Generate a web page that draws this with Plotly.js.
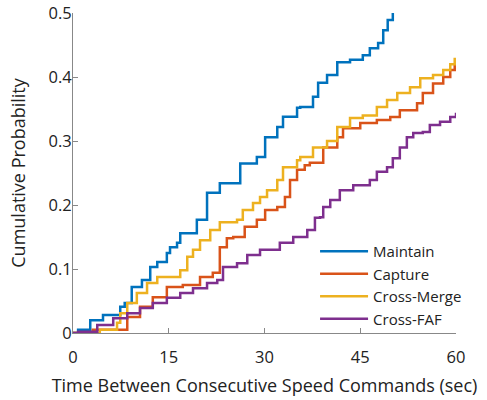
<!DOCTYPE html>
<html>
<head>
<meta charset="utf-8">
<script src="https://cdn.plot.ly/plotly-3.0.1.min.js"></script>
<style>html,body{margin:0;padding:0;background:#fff}#chart{width:487px;height:400px}</style>
</head>
<body>
<div id="chart"></div>
<script>
var seriesNames = ["Maintain", "Capture", "Cross-Merge", "Cross-FAF"];
var seriesColors = ["#0072BD", "#D95319", "#EDB120", "#7E2F8E"];

var maintainT = [0, 0.8, 2.7, 4.7, 7.4, 8.1, 9.2, 10.8, 12.1, 13.2, 14.7, 15.2, 16.3, 16.8, 19.4, 21.0, 23.0, 25.9, 26.2, 28.8, 30.1, 32.0, 32.9, 35.1, 35.6, 37.6, 38.4, 39.8, 41.4, 43.4, 45.4, 46.5, 47.8, 48.6, 49.3, 50.1];
var maintainP = [0, 0.005, 0.02, 0.028, 0.041, 0.047, 0.072, 0.083, 0.103, 0.111, 0.125, 0.134, 0.141, 0.156, 0.177, 0.219, 0.234, 0.234, 0.265, 0.275, 0.306, 0.322, 0.338, 0.352, 0.353, 0.369, 0.391, 0.403, 0.423, 0.427, 0.434, 0.445, 0.453, 0.473, 0.489, 0.5];

var captureT = [0, 3.1, 8.5, 10.5, 12.5, 14.7, 17.2, 19.9, 21.9, 23.0, 24.1, 25.1, 26.9, 28.8, 30.1, 32.0, 33.2, 34.0, 35.1, 36.3, 37.1, 39.2, 41.4, 42.3, 45.0, 47.6, 49.7, 51.2, 53.9, 54.8, 56.4, 58.0, 59.1, 59.8];
var captureP = [0, 0.005, 0.025, 0.041, 0.056, 0.072, 0.075, 0.0875, 0.094, 0.134, 0.148, 0.15, 0.166, 0.177, 0.192, 0.197, 0.2125, 0.239, 0.255, 0.262, 0.266, 0.29, 0.306, 0.32, 0.328, 0.333, 0.3375, 0.348, 0.359, 0.375, 0.39, 0.40, 0.411, 0.42];

var mergeT = [0, 4.2, 6.9, 7.4, 8.5, 10.0, 11.6, 13.2, 15.2, 16.8, 17.9, 18.8, 19.9, 21.5, 23.0, 25.7, 26.6, 28.2, 29.3, 30.4, 32.0, 32.9, 35.1, 35.6, 37.6, 39.8, 41.4, 43.4, 45.4, 47.6, 49.2, 50.8, 52.8, 54.4, 56.4, 58.0, 59.1, 59.8];
var mergeP = [0, 0.005, 0.016, 0.031, 0.047, 0.0625, 0.078, 0.0875, 0.0875, 0.098, 0.119, 0.13, 0.145, 0.161, 0.173, 0.177, 0.192, 0.203, 0.2125, 0.223, 0.239, 0.259, 0.27, 0.275, 0.29, 0.30, 0.322, 0.336, 0.34, 0.353, 0.364, 0.375, 0.384, 0.398, 0.403, 0.411, 0.42, 0.43];

var fafT = [0, 0.8, 3.8, 6.3, 8.5, 10.5, 12.5, 14.7, 16.8, 18.8, 21.0, 22.6, 23.5, 25.7, 27.3, 29.3, 30.9, 32.4, 34.5, 36.7, 37.9, 38.7, 39.2, 40.3, 41.8, 43.9, 46.5, 47.6, 49.2, 50.1, 51.2, 52.3, 53.3, 54.8, 55.9, 57.5, 59.1, 60];
var fafP = [0, 0.002, 0.0125, 0.023, 0.031, 0.039, 0.047, 0.055, 0.0625, 0.07, 0.078, 0.083, 0.103, 0.109, 0.122, 0.13, 0.13, 0.141, 0.15, 0.161, 0.18, 0.181, 0.197, 0.208, 0.223, 0.231, 0.239, 0.252, 0.259, 0.273, 0.29, 0.306, 0.3125, 0.314, 0.325, 0.33, 0.3375, 0.344];

var xTicks = [0, 15, 30, 45, 60];
var yTicks = [0, 0.1, 0.2, 0.3, 0.4, 0.5];
var yTickLabels = ["0", "0.1", "0.2", "0.3", "0.4", "0.5"];

var xs = [maintainT, captureT, mergeT, fafT];
var ys = [maintainP, captureP, mergeP, fafP];

var traces = seriesNames.map(function (n, i) {
  return {
    x: xs[i], y: ys[i], name: n, type: "scatter", mode: "lines",
    line: {color: seriesColors[i], width: 2.5, shape: "hv"}
  };
});

var fontFam = "'Open Sans', 'Noto Sans', sans-serif";
var layout = {
  width: 487, height: 400,
  margin: {l: 73, r: 31, t: 13, b: 67},
  paper_bgcolor: "#fff", plot_bgcolor: "#fff",
  font: {family: fontFam, size: 16, color: "#222"},
  showlegend: true,
  legend: {x: 0.632, y: 0.306, xanchor: "left", yanchor: "top",
           bgcolor: "rgba(0,0,0,0)", font: {size: 15, color: "#222"},
           tracegroupgap: 0, itemwidth: 48},
  xaxis: {
    range: [0, 60], tickvals: xTicks, ticktext: xTicks.map(String),
    ticks: "inside", ticklen: 5, tickcolor: "#888", tickwidth: 1,
    showline: true, linecolor: "#888", linewidth: 1, mirror: false,
    showgrid: false, zeroline: false,
    ticklabelstandoff: 9,
    tickfont: {size: 16.5, color: "#222"},
    title: {text: "Time Between Consecutive Speed Commands (sec)", font: {size: 18, color: "#222"}, standoff: 12}
  },
  yaxis: {
    range: [0, 0.5], tickvals: yTicks, ticktext: yTickLabels,
    ticks: "inside", ticklen: 5, tickcolor: "#888", tickwidth: 1,
    showline: true, linecolor: "#888", linewidth: 1, mirror: false,
    showgrid: false, zeroline: false,
    ticklabelstandoff: -3,
    tickfont: {size: 16.5, color: "#222"},
    title: {text: "Cumulative Probability", font: {size: 18, color: "#222"}, standoff: 18}
  }
};

Plotly.newPlot("chart", traces, layout, {displayModeBar: false, staticPlot: true});
</script>
</body>
</html>
